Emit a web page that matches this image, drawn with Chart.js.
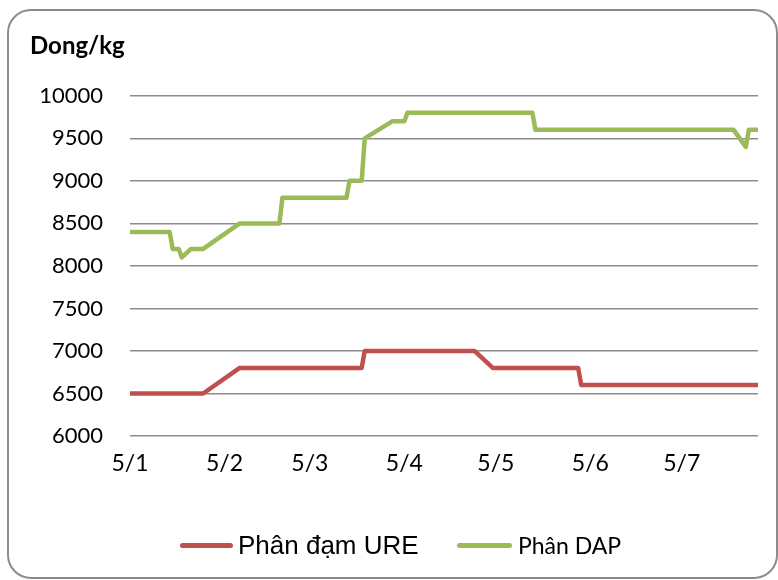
<!DOCTYPE html>
<html>
<head>
<meta charset="utf-8">
<script src="https://cdn.jsdelivr.net/npm/chart.js@4.4.0/dist/chart.umd.min.js"></script>
<style>
  html, body { margin: 0; padding: 0; background: #fff; }
  #wrap { position: relative; width: 778px; height: 580px; overflow: hidden; }
  #frame {
    position: absolute; left: 7px; top: 9px; width: 771px; height: 570px;
    border: 2px solid #8c8c8c; border-radius: 24px; box-sizing: border-box;
    pointer-events: none;
  }
  .lg-line { position: absolute; height: 5px; border-radius: 3px; }
  .lg-text { position: absolute; color: #000; white-space: nowrap; line-height: 1; }
</style>
</head>
<body>
<div id="wrap">
  <canvas id="chart"></canvas>
  <div id="frame"></div>
  <div id="legend"></div>
</div>
<script>
// dates are d/m (day/month)
const tickLabels = ["5/1", "5/2", "5/3", "5/4", "5/5", "5/6", "5/7"];

const ureDates  = ["5/1", "29/1", "10/2", "22/3", "23/3", "28/4", "4/5", "31/5", "1/6", "2/6", "30/7"];
const ureValues = [6500, 6500, 6800, 6800, 7000, 7000, 6800, 6800, 6800, 6600, 6600];

const dapDates  = ["5/1", "18/1", "19/1", "21/1", "22/1", "25/1", "29/1", "10/2", "23/2", "24/2",
                   "17/3", "18/3", "22/3", "23/3", "1/4", "5/4", "6/4", "17/5", "18/5", "22/7",
                   "26/7", "27/7", "30/7"];
const dapValues = [8400, 8400, 8200, 8200, 8100, 8200, 8200, 8500, 8500, 8800,
                   8800, 9000, 9000, 9500, 9700, 9700, 9800, 9800, 9600, 9600,
                   9400, 9600, 9600];

const monthStart = [0, 31, 59, 90, 120, 151, 181, 212, 243, 273, 304, 334];
function dayOfYear(dm) {
  const [d, m] = dm.split("/").map(Number);
  return monthStart[m - 1] + d;
}
function toPoints(dates, values) {
  return dates.map((dt, i) => ({ x: dayOfYear(dt), y: values[i] }));
}
const tickDays = tickLabels.map(dayOfYear);

const ctx = document.getElementById("chart").getContext("2d");
const chart = new Chart(ctx, {
  type: "line",
  data: {
    datasets: [
      {
        label: "Phân đạm URE",
        data: toPoints(ureDates, ureValues),
        borderColor: "#C0504D",
        backgroundColor: "#C0504D",
        borderWidth: 4.5,
        pointRadius: 0,
        tension: 0,
        borderJoinStyle: "round",
        borderCapStyle: "round",
      },
      {
        label: "Phân DAP",
        data: toPoints(dapDates, dapValues),
        borderColor: "#9BBB59",
        backgroundColor: "#9BBB59",
        borderWidth: 4.5,
        pointRadius: 0,
        tension: 0,
        borderJoinStyle: "round",
        borderCapStyle: "round",
      },
    ],
  },
  options: {
    responsive: true,
    maintainAspectRatio: false,
    animation: false,
    layout: { padding: { left: 30, right: 20, top: 0, bottom: 0 } },
    plugins: {
      legend: { display: false },
      tooltip: { enabled: false },
      title: {
        display: true,
        text: "Dong/kg",
        align: "start",
        color: "#000",
        font: { family: "Lato", size: 24, weight: "bold", lineHeight: 1.2 },
        padding: { top: 32, bottom: 35 },
      },
    },
    scales: {
      x: {
        type: "linear",
        min: dayOfYear(ureDates[0]),
        max: dayOfYear(ureDates[ureDates.length - 1]),
        afterBuildTicks: (axis) => {
          axis.ticks = tickDays.map((v) => ({ value: v }));
        },
        afterFit: (axis) => { axis.height = 144; },
        grid: { display: false, drawTicks: false },
        border: { display: false },
        ticks: {
          autoSkip: false,
          maxRotation: 0,
          padding: 14,
          color: "#000",
          font: { family: "Lato", size: 23 },
          callback: (v) => tickLabels[tickDays.indexOf(v)],
        },
      },
      y: {
        min: 6000,
        max: 10000,
        afterFit: (axis) => { axis.width = 100; },
        grid: { color: "#8c8c8c", lineWidth: 1.5, drawTicks: false },
        border: { display: false },
        ticks: {
          stepSize: 500,
          padding: 27,
          color: "#000",
          font: { family: "Lato", size: 22 },
          callback: (v) => String(v),
        },
      },
    },
  },
});

// legend drawn as html from the chart's datasets
const legendStyle = [
  { line: [180, 53], text: 238, font: "26px 'Liberation Sans', Arial, sans-serif" },
  { line: [457, 55], text: 518, font: "23px Lato, sans-serif" },
];
const legendEl = document.getElementById("legend");
chart.data.datasets.forEach((ds, i) => {
  const st = legendStyle[i];
  const ln = document.createElement("div");
  ln.className = "lg-line";
  ln.style.left = st.line[0] + "px";
  ln.style.width = st.line[1] + "px";
  ln.style.top = "543px";
  ln.style.background = ds.borderColor;
  legendEl.appendChild(ln);
  const tx = document.createElement("div");
  tx.className = "lg-text";
  tx.style.left = st.text + "px";
  tx.style.font = st.font;
  tx.style.top = "545px";
  tx.style.transform = "translateY(-50%)";
  tx.textContent = ds.label;
  legendEl.appendChild(tx);
});
</script>
</body>
</html>
